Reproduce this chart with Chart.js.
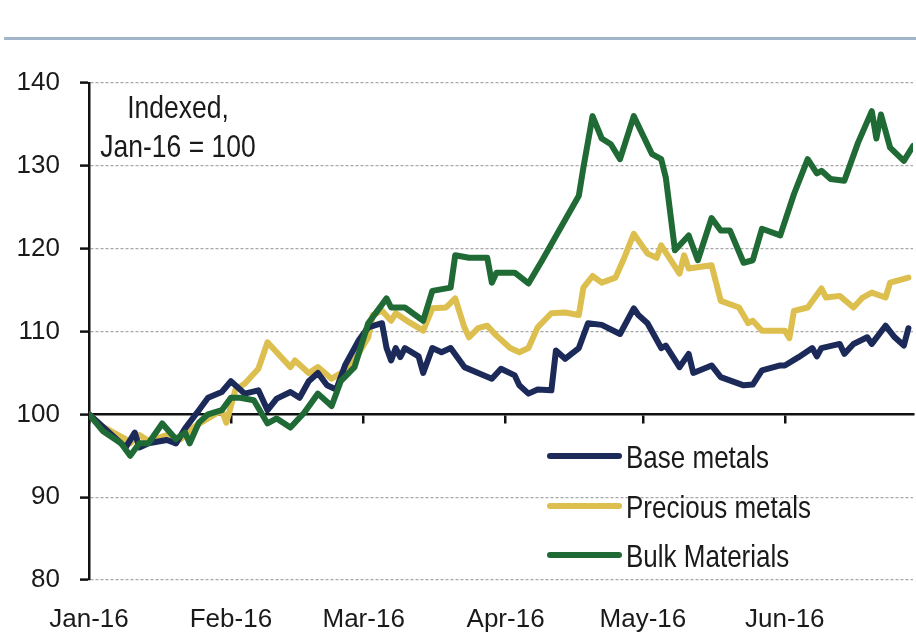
<!DOCTYPE html>
<html>
<head>
<meta charset="utf-8">
<script src="https://cdn.jsdelivr.net/npm/chart.js@4.4.1/dist/chart.umd.min.js"></script>
<style>
  html, body { margin: 0; padding: 0; background: #ffffff; }
  #wrap { width: 916px; height: 641px; position: relative; }
</style>
</head>
<body>
<div id="wrap"><canvas id="c" width="916" height="641"></canvas></div>
<script>
// ---------- DATA (days since 1 Jan 2016, index value Jan-16 = 100) ----------
const seriesNames = ['Base metals', 'Precious metals', 'Bulk Materials'];
const monthTicks = [0, 31, 60, 91, 121, 152];
const monthLabels = ['Jan-16', 'Feb-16', 'Mar-16', 'Apr-16', 'May-16', 'Jun-16'];
const yTicks = [80, 90, 100, 110, 120, 130, 140];

const baseDays = [0, 3, 8, 10, 11, 13, 17, 19, 21, 24, 26, 29, 31, 34, 37, 39, 41, 44, 46, 48, 50, 52, 54, 56, 59, 61, 64, 65, 66, 67, 68, 69, 72, 73, 75, 77, 79, 82, 85, 88, 90, 93, 94, 96, 98, 101, 102, 104, 107, 109, 112, 116, 119, 120, 122, 125, 126, 129, 131, 132, 136, 138, 143, 145, 147, 151, 152, 155, 158, 159, 160, 164, 165, 167, 170, 171, 174, 176, 178, 179];
const baseValues = [100, 98.5, 96, 97.8, 96, 96.5, 96.9, 96.5, 98.3, 100.5, 102, 102.7, 104, 102.5, 102.9, 100.5, 101.9, 102.7, 102, 104, 105, 103.5, 103, 106, 109, 110.5, 111, 108, 106.5, 108, 106.9, 108, 107, 105, 108, 107.5, 108, 105.7, 105, 104.3, 105.5, 104.7, 103.5, 102.5, 103, 102.9, 107.7, 106.7, 108, 111, 110.8, 109.7, 112.8, 112, 111, 108, 108.3, 105.7, 107.3, 105, 105.9, 104.5, 103.5, 103.6, 105.3, 105.9, 105.9, 106.9, 108, 107, 108, 108.5, 107.3, 108.5, 109.3, 108.5, 110.7, 109.3, 108.3, 110.4];

const preciousDays = [0, 3, 8, 9, 11, 13, 17, 20, 23, 26, 29, 30, 32, 34, 37, 39, 41, 44, 45, 48, 50, 53, 56, 58, 61, 62, 64, 66, 67, 70, 73, 75, 78, 80, 82, 83, 85, 87, 89, 92, 94, 96, 98, 101, 104, 107, 108, 110, 112, 115, 117, 119, 120, 122, 124, 125, 129, 130, 131, 136, 138, 142, 144, 145, 147, 152, 153, 154, 157, 160, 161, 164, 167, 169, 171, 174, 175, 179];
const preciousValues = [100, 98.5, 97, 96.5, 97.5, 96.8, 97.5, 97, 98.5, 99.5, 100.5, 99, 103, 103.7, 105.5, 108.7, 107.5, 105.7, 106.5, 105, 105.7, 104.3, 105.3, 106.5, 109.3, 112, 112.5, 111.3, 112.2, 111.1, 110.1, 112.8, 112.9, 114, 110.5, 109.3, 110.4, 110.7, 109.5, 108, 107.5, 108, 110.5, 112.2, 112.3, 112, 115.3, 116.7, 115.9, 116.5, 119, 121.8, 121, 119.4, 118.9, 120.4, 117, 119.2, 117.6, 118, 113.7, 112.9, 111, 111.3, 110.1, 110.1, 109.2, 112.5, 112.9, 115.2, 114.1, 114.3, 112.9, 114.1, 114.7, 114.1, 115.9, 116.5];

const bulkDays = [0, 3, 7, 9, 11, 13, 16, 19, 21, 22, 24, 26, 29, 31, 33, 36, 39, 41, 44, 47, 50, 53, 55, 58, 61, 65, 66, 69, 73, 75, 79, 80, 83, 87, 88, 89, 93, 96, 99, 103, 107, 108, 110, 112, 114, 116, 119, 123, 125, 126, 128, 131, 133, 136, 138, 140, 143, 145, 147, 151, 154, 157, 159, 160, 162, 165, 168, 171, 172, 173, 175, 178, 180];
const bulkValues = [100, 98, 96.5, 95, 96.5, 96.5, 98.9, 97, 97.8, 96.5, 99, 100, 100.5, 102, 102, 101.7, 98.9, 99.5, 98.4, 100.2, 102.5, 101, 104, 105.7, 111, 114, 112.9, 112.9, 111.3, 114.9, 115.3, 119.2, 118.9, 118.9, 115.9, 117.1, 117.1, 115.8, 118.6, 122.5, 126.4, 129.8, 136, 133.3, 132.6, 130.8, 136, 131.4, 130.8, 128.6, 119.8, 121.6, 118.6, 123.7, 122.2, 122.2, 118.3, 118.6, 122.4, 121.6, 126.6, 130.8, 129.1, 129.4, 128.4, 128.2, 132.8, 136.6, 133.3, 136.2, 132.2, 130.6, 132.4];

// ---------- STYLE ----------
const colors = ['#1c2a5a', '#dcbf4e', '#1f6a35'];
const drawOrder = [1, 2, 0];

function pickFont() {
  const c = document.createElement('canvas').getContext('2d');
  c.font = '40px monospace';
  const w1 = c.measureText('Base metals 140').width;
  c.font = '40px "Liberation Sans Narrow", monospace';
  const w2 = c.measureText('Base metals 140').width;
  if (Math.abs(w1 - w2) > 0.5) return { family: '"Liberation Sans Narrow", "Arial Narrow", sans-serif', axis: 30, legend: 31, note: 31, sy: 1 };
  return { family: '"Liberation Sans", Arial, sans-serif', axis: 26, legend: 26, note: 26.5, sy: 1.18 };
}
const F = pickFont();

function toPoints(days, vals) { return days.map((d, i) => ({ x: d, y: vals[i] })); }
const allDays = [baseDays, preciousDays, bulkDays];
const allVals = [baseValues, preciousValues, bulkValues];

const datasets = seriesNames.map((name, i) => ({
  label: name,
  data: toPoints(allDays[i], allVals[i]),
  borderColor: colors[i],
  backgroundColor: colors[i],
  borderWidth: 6,
  pointRadius: 0,
  tension: 0,
  borderJoinStyle: 'round',
  borderCapStyle: 'round',
  order: drawOrder[i],
  xAxisID: 'x',
  yAxisID: 'y'
}));

function setMonthTicks(scale) { scale.ticks = monthTicks.map(v => ({ value: v })); }

// text drawn with slight vertical stretch to mimic the reference's tall glyphs
function tallText(ctx, txt, x, y) {
  ctx.save();
  ctx.translate(x, y);
  ctx.scale(1, F.sy);
  ctx.fillText(txt, 0, 0);
  ctx.restore();
}

const decor = {
  id: 'decor',
  afterDraw(chart) {
    const ctx = chart.ctx;
    ctx.save();
    // header rule
    ctx.strokeStyle = '#a3b5c8';
    ctx.lineWidth = 3;
    ctx.beginPath(); ctx.moveTo(4, 38.5); ctx.lineTo(916, 38.5); ctx.stroke();
    // note
    ctx.fillStyle = '#1a1a1a';
    ctx.font = F.note + 'px ' + F.family;
    ctx.textAlign = 'center';
    ctx.textBaseline = 'alphabetic';
    tallText(ctx, 'Indexed,', 178, 118);
    tallText(ctx, 'Jan-16 = 100', 178, 157);
    // legend
    const ly = [456, 506, 555];
    chart.data.datasets.forEach((ds, i) => {
      ctx.strokeStyle = ds.borderColor;
      ctx.lineWidth = 6;
      ctx.lineCap = 'round';
      ctx.beginPath(); ctx.moveTo(550, ly[i]); ctx.lineTo(619, ly[i]); ctx.stroke();
      ctx.fillStyle = '#1a1a1a';
      ctx.font = F.legend + 'px ' + F.family;
      ctx.textAlign = 'left';
      tallText(ctx, ds.label, 626, ly[i] + 12);
    });
    ctx.restore();
  }
};

new Chart(document.getElementById('c'), {
  type: 'line',
  data: { datasets },
  options: {
    responsive: false,
    animation: false,
    devicePixelRatio: 1,
    layout: { padding: { top: 83, right: 3, left: 0, bottom: 0 } },
    plugins: { legend: { display: false }, tooltip: { enabled: false } },
    scales: {
      y: {
        type: 'linear',
        position: 'left',
        min: 80, max: 140,
        afterBuildTicks: s => { s.ticks = yTicks.map(v => ({ value: v })); },
        afterFit: s => { s.width = 89; },
        ticks: { color: '#1a1a1a', font: { family: F.family, size: F.axis }, padding: 20 },
        grid: {
          color: c => (c.tick && c.tick.value === 100) ? 'rgba(0,0,0,0)' : '#a8a8a8',
          lineWidth: 1.2,
          tickColor: '#111',
          tickLength: 9,
          tickWidth: 2.5
        },
        border: { display: true, color: '#111', width: 2.5, dash: [3, 2] }
      },
      x: {
        type: 'linear',
        position: { y: 100 },
        min: 0, max: 180,
        afterBuildTicks: setMonthTicks,
        ticks: { display: false },
        grid: { drawOnChartArea: false, drawTicks: true, tickLength: 8, color: '#111', lineWidth: 2.5 },
        border: { display: true, color: '#111', width: 2.5 }
      },
      x2: {
        type: 'linear',
        position: 'bottom',
        min: 0, max: 180,
        afterBuildTicks: setMonthTicks,
        afterFit: s => { s.height = 61; },
        ticks: {
          color: '#1a1a1a',
          font: { family: F.family, size: F.axis },
          padding: 24,
          maxRotation: 0,
          autoSkip: false,
          callback: v => monthLabels[monthTicks.indexOf(v)]
        },
        grid: { display: false, drawTicks: false },
        border: { display: false }
      }
    }
  },
  plugins: [decor]
});
</script>
</body>
</html>
